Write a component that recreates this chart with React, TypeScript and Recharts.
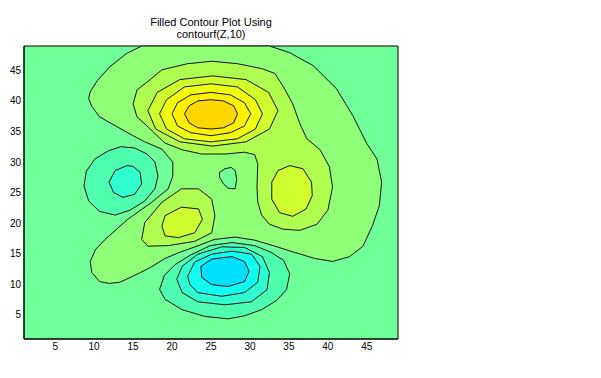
import React from "react";
import { ScatterChart, Scatter, XAxis, YAxis, CartesianGrid, ReferenceArea } from "recharts";

type Pt = { x: number; y: number };

const xTicks = [5, 10, 15, 20, 25, 30, 35, 40, 45];
const yTicks = [5, 10, 15, 20, 25, 30, 35, 40, 45];

// one colour per band, lowest to highest
const bandColors = [
  "#00DFFF", "#0FFFF0", "#2FFFD0", "#4FFFB0", "#70FF98",
  "#90FF78", "#B0FF50", "#D0FF30", "#F0FF10", "#FFEF00", "#FFD700",
];

// contour outlines, in grid units [x, y]
const plateau = [
  [16.1, 49], [32.5, 49], [35.1, 47.9], [38.1, 45.8], [41.1, 42.0], [43.2, 37.6], [45.0, 33.0],
  [46.3, 30.5], [46.9, 26.7], [46.6, 22.8], [45.7, 19.5], [44.5, 16.2], [42.8, 14.5], [40.6, 13.7],
  [38.3, 14.2], [35.7, 15.2], [33.2, 16.2], [30.6, 17.2], [28.1, 17.7], [25.4, 17.3], [23.6, 16.4],
  [21.0, 15.2], [19.1, 14.2], [17.2, 12.7], [15.0, 11.3], [13.3, 10.3], [12.0, 10.1], [10.7, 10.4],
  [9.7, 11.9], [9.5, 13.7], [10.2, 15.7], [11.4, 17.3], [14.3, 20.6], [17.4, 23.4], [19.5, 25.6],
  [20.1, 27.7], [20.1, 30.0], [18.7, 32.1], [16.5, 33.3], [15.0, 34.3], [12.9, 35.8], [10.7, 37.4],
  [9.7, 39.1], [9.3, 40.4], [9.5, 41.5], [10.4, 43.3], [12.0, 45.6], [14.2, 47.8],
];
const leftOuter = [
  [13.4, 32.5], [15.2, 32.3], [16.8, 31.3], [17.8, 30.0], [18.2, 27.7], [17.8, 25.6], [16.5, 23.6],
  [14.6, 22.1], [12.7, 21.3], [10.7, 21.9], [9.3, 23.6], [8.7, 26.1], [9.0, 28.5], [10.1, 30.5], [11.8, 31.8],
];
const leftInner = [
  [14.2, 29.4], [15.0, 29.3], [15.9, 28.3], [16.1, 26.4], [15.2, 24.7], [13.7, 24.2], [12.5, 25.0],
  [11.9, 26.7], [12.7, 28.6],
];
const island = [
  [26.1, 28.3], [26.8, 28.9], [27.6, 29.1], [28.1, 28.6], [28.3, 27.2], [28.1, 25.6], [27.2, 25.7],
  [26.6, 26.4], [26.1, 27.5],
];
const ridge = [
  [17.2, 43.5], [18.7, 45.1], [22.0, 46.1], [25.1, 46.5], [28.4, 46.1], [31.5, 45.3], [33.2, 44.5],
  [34.3, 42.3], [35.5, 39.5], [36.4, 36.3], [37.3, 33.8], [39.0, 32.0], [40.2, 29.2], [40.6, 25.9],
  [40.0, 22.1], [38.6, 19.8], [36.4, 18.8], [34.2, 19.0], [32.5, 19.8], [31.5, 21.3], [31.0, 23.4],
  [30.9, 25.9], [31.0, 29.7], [30.6, 31.2], [29.3, 31.6], [26.8, 31.3], [23.8, 31.3], [21.3, 32.0],
  [19.1, 33.1], [17.2, 35.4], [15.5, 37.4], [15.0, 39.5], [15.5, 41.8],
];
const rightBump = [
  [35.1, 29.4], [36.8, 28.9], [37.9, 26.7], [38.0, 24.5], [37.2, 22.3], [35.5, 21.1], [33.8, 21.7],
  [32.8, 23.9], [32.8, 26.7], [33.6, 28.6],
];
const peak1 = [
  [33.6, 38.4], [32.4, 41.4], [29.5, 43.5], [25.2, 44.1], [21.0, 43.5], [18.1, 41.4], [16.9, 38.4],
  [17.9, 35.4], [21.0, 33.3], [25.2, 32.6], [29.5, 33.3], [32.5, 35.4],
];
const peak2 = [
  [31.6, 37.9], [30.7, 40.2], [28.4, 42.3], [25.0, 42.8], [21.6, 42.3], [19.3, 40.2], [18.4, 37.9],
  [19.3, 35.4], [21.6, 33.8], [25.0, 33.3], [28.4, 33.8], [30.7, 35.4],
];
const peak3 = [
  [30.1, 37.9], [29.3, 39.7], [27.5, 41.0], [25.0, 41.4], [22.4, 41.0], [20.7, 39.7], [20.0, 37.9],
  [20.7, 35.9], [22.4, 34.8], [25.0, 34.3], [27.5, 34.8], [29.3, 35.9],
];
const peak4 = [
  [28.4, 37.9], [27.9, 39.2], [26.6, 40.0], [25.0, 40.2], [23.3, 40.0], [22.2, 39.2], [21.6, 37.9],
  [22.2, 36.4], [23.3, 35.6], [25.0, 35.4], [26.6, 35.6], [27.9, 36.4],
];
const lowerBump1 = [
  [16.1, 17.3], [16.5, 20.1], [18.7, 23.4], [21.2, 25.6], [23.4, 25.6], [25.1, 23.9], [25.5, 21.2],
  [25.1, 18.4], [22.9, 17.0], [19.5, 16.3], [16.9, 16.2],
];
const lowerBump2 = [
  [18.7, 19.5], [19.1, 21.2], [21.2, 22.6], [23.4, 22.3], [23.9, 20.6], [22.9, 18.4], [20.8, 17.6], [19.1, 17.9],
];
const pit1 = [
  [18.4, 9.1], [19.0, 11.4], [20.4, 13.2], [22.3, 14.7], [24.9, 16.3], [27.7, 16.8], [30.6, 16.3],
  [32.7, 15.2], [34.3, 13.9], [35.1, 11.7], [34.7, 9.1], [33.4, 7.3], [31.5, 5.8], [29.3, 4.8],
  [27.2, 4.3], [24.2, 4.7], [21.3, 5.8], [19.1, 7.5],
];
const pit2 = [
  [20.6, 10.8], [21.3, 12.9], [23.3, 14.9], [26.4, 16.1], [29.3, 16.0], [31.6, 14.5], [32.5, 11.9],
  [32.2, 9.1], [30.2, 7.1], [26.8, 6.6], [23.3, 7.1], [21.3, 8.6],
];
const pit3 = [
  [22.0, 11.3], [22.9, 13.6], [25.1, 14.9], [27.7, 15.4], [30.2, 14.9], [31.3, 12.9], [31.0, 10.3],
  [29.3, 8.6], [26.4, 8.0], [23.3, 8.6], [22.3, 9.9],
];
const pit4 = [
  [23.7, 12.9], [25.1, 14.1], [27.7, 14.5], [29.3, 13.7], [29.9, 12.1], [29.3, 10.4], [27.2, 9.6],
  [25.1, 9.9], [23.8, 11.1],
];

// drawing order (outer first) and band index of each fill
const layers: [number[][], number][] = [
  [plateau, 5], [leftOuter, 3], [leftInner, 2], [island, 4], [ridge, 6], [rightBump, 7],
  [peak1, 7], [peak2, 8], [peak3, 9], [peak4, 10], [lowerBump1, 6], [lowerBump2, 7],
  [pit1, 3], [pit2, 2], [pit3, 1], [pit4, 0],
];

const toPts = (arr: number[][]): Pt[] => arr.map(([x, y]) => ({ x, y }));
const noDot = () => <g />;

const font = "'Liberation Sans', Arial, sans-serif";

export default function App() {
  return (
    <div style={{ position: "absolute", left: 0, top: 0, width: 601, height: 378, background: "#fff", fontFamily: font }}>
      <div style={{ position: "absolute", left: 0, width: 422, top: 16, textAlign: "center", fontSize: 11, lineHeight: "12px" }}>
        Filled Contour Plot Using
        <br />
        contourf(Z,10)
      </div>
      <ScatterChart width={601} height={378} margin={{ top: 46, right: 203, bottom: 19, left: 0 }}>
        <CartesianGrid horizontal={false} vertical={false} fill={bandColors[4]} stroke="none" />
        <XAxis
          type="number"
          dataKey="x"
          domain={[1, 49]}
          ticks={xTicks}
          height={20}
          tickLine={false}
          tickSize={0}
          tickMargin={4}
          axisLine={{ stroke: "#000" }}
          tick={{ fill: "#000", fontSize: 10, fontFamily: font }}
        />
        <YAxis
          type="number"
          dataKey="y"
          domain={[1, 49]}
          ticks={yTicks}
          width={24}
          tickLine={false}
          tickSize={0}
          tickMargin={3}
          axisLine={{ stroke: "#000" }}
          tick={{ fill: "#000", fontSize: 10, fontFamily: font }}
        />
        {layers.map(([pts, band], i) => (
          <Scatter
            key={i}
            data={toPts(pts)}
            shape={noDot}
            line={{ stroke: "#111", strokeWidth: 1, fill: bandColors[band] }}
            lineJointType="linearClosed"
            isAnimationActive={false}
          />
        ))}
        <ReferenceArea x1={1} x2={49} y1={1} y2={49} fill="none" stroke="#000" strokeWidth={1} ifOverflow="visible" />
      </ScatterChart>
    </div>
  );
}
